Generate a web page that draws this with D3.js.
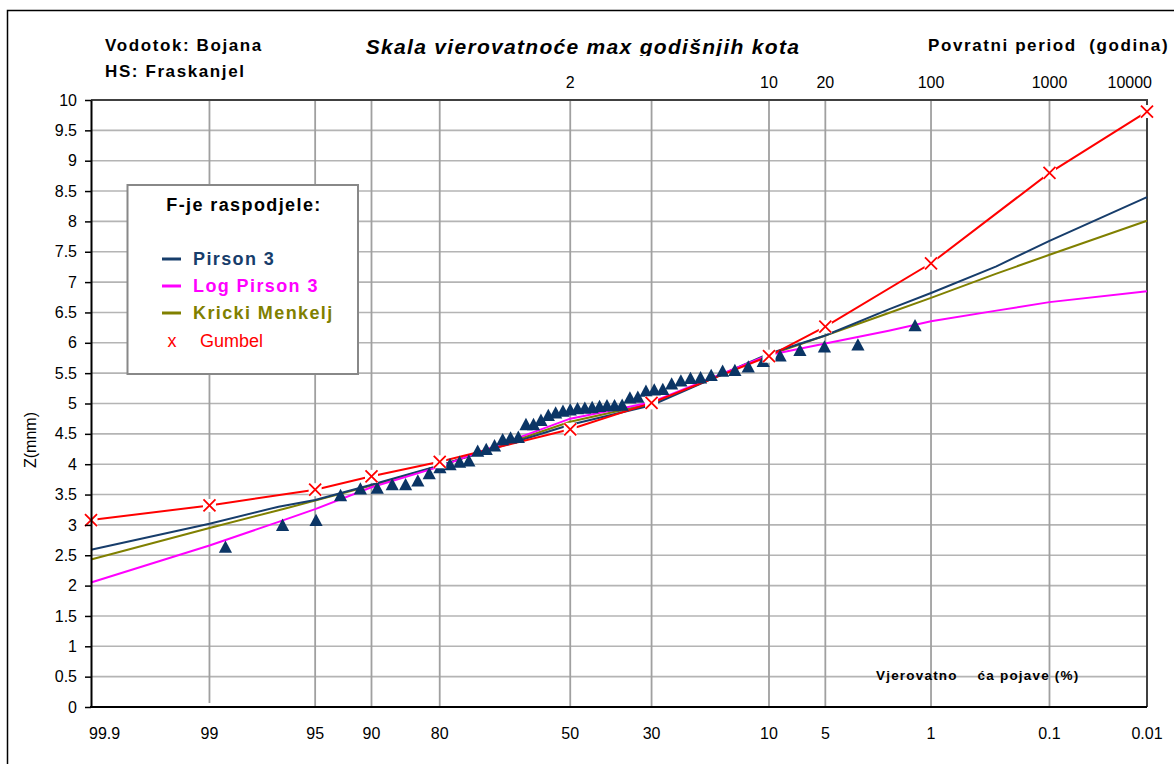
<!DOCTYPE html>
<html>
<head>
<meta charset="utf-8">
<script src="https://cdn.jsdelivr.net/npm/d3@7"></script>
<style>
  body { margin: 0; background: #fff; }
  svg { display: block; font-family: "Liberation Sans", Arial, sans-serif; }
  .pre { white-space: pre; }
</style>
</head>
<body>
<svg id="chart" width="1174" height="764"></svg>
<script>
// exceedance probability (%) of the observed annual maxima, and the levels
const obsExceed = [1.31, 3.18, 5.06, 6.93, 8.80, 10.67, 12.55, 14.42, 16.29, 18.17,
    20.04, 21.91, 23.78, 25.66, 27.53, 29.40, 31.27, 33.15, 35.02, 36.89,
    38.76, 40.64, 42.51, 44.38, 46.25, 48.13, 50.00, 51.87, 53.75, 55.62,
    57.49, 59.36, 61.24, 63.11, 64.98, 66.85, 68.73, 70.60, 72.47, 74.34,
    76.22, 78.09, 79.96, 81.84, 83.71, 85.58, 87.45, 89.33, 91.20, 93.07,
    94.94, 96.82, 98.69];
const obsLevel = [6.29, 5.97, 5.94, 5.88, 5.79, 5.70, 5.61, 5.55, 5.54, 5.47,
    5.43, 5.42, 5.38, 5.33, 5.24, 5.23, 5.21, 5.11, 5.10, 4.98,
    4.97, 4.97, 4.96, 4.94, 4.93, 4.92, 4.90, 4.88, 4.85, 4.81,
    4.73, 4.66, 4.66, 4.45, 4.44, 4.41, 4.31, 4.25, 4.22, 4.06,
    4.04, 4.00, 3.95, 3.85, 3.73, 3.67, 3.67, 3.61, 3.60, 3.49,
    3.08, 3.00, 2.64];

// fitted distributions
const fitExceed = [99.9, 99, 97, 95, 90, 80, 50, 30, 10, 5, 2, 1, 0.3, 0.1, 0.01];
const pirson3 = [2.59, 3.02, 3.30, 3.41, 3.66, 3.98, 4.65, 4.97, 5.82, 6.12, 6.55, 6.82, 7.26, 7.68, 8.40];
const logPirson3 = [2.05, 2.66, 3.05, 3.26, 3.62, 3.96, 4.75, 5.02, 5.80, 5.99, 6.20, 6.355, 6.53, 6.67, 6.85];
const krickiMenkelj = [2.43, 2.95, 3.24, 3.40, 3.65, 3.97, 4.70, 5.00, 5.80, 6.12, 6.49, 6.74, 7.14, 7.45, 8.01];

const gumExceed = [99.9, 99, 95, 90, 80, 50, 30, 10, 5, 1, 0.1, 0.01];
const gumbel = [3.08, 3.32, 3.58, 3.80, 4.04, 4.575, 5.01, 5.78, 6.265, 7.31, 8.80, 9.81];

// axes
const probLabels = [99.9, 99, 95, 90, 80, 50, 30, 10, 5, 1, 0.1, 0.01];
const probGrid = [99, 95, 90, 80, 50, 30, 10, 5, 1, 0.1];
const returnPeriods = [2, 10, 20, 100, 1000, 10000];
const yTicks = [0, 0.5, 1, 1.5, 2, 2.5, 3, 3.5, 4, 4.5, 5, 5.5, 6, 6.5, 7, 7.5, 8, 8.5, 9, 9.5, 10];

const NAVY = '#173d6b';
const TRI = '#0b3565';

// inverse standard normal cdf (Acklam)
function normInv(p) {
    const a = [-3.969683028665376e+01, 2.209460984245205e+02, -2.759285104469687e+02,
        1.383577518672690e+02, -3.066479806614716e+01, 2.506628277459239e+00];
    const b = [-5.447609879822406e+01, 1.615858368580409e+02, -1.556989798598866e+02,
        6.680131188771972e+01, -1.328068155288572e+01];
    const c = [-7.784894002430293e-03, -3.223964580411365e-01, -2.400758277161838e+00,
        -2.549732539343734e+00, 4.374664141464968e+00, 2.938163982698783e+00];
    const d = [7.784695709041462e-03, 3.224671290700398e-01, 2.445134137142996e+00,
        3.754408661907416e+00];
    const pl = 0.02425;
    if (p < pl) {
        const q = Math.sqrt(-2 * Math.log(p));
        return (((((c[0]*q+c[1])*q+c[2])*q+c[3])*q+c[4])*q+c[5]) / ((((d[0]*q+d[1])*q+d[2])*q+d[3])*q+1);
    }
    if (p > 1 - pl) {
        const q = Math.sqrt(-2 * Math.log(1 - p));
        return -(((((c[0]*q+c[1])*q+c[2])*q+c[3])*q+c[4])*q+c[5]) / ((((d[0]*q+d[1])*q+d[2])*q+d[3])*q+1);
    }
    const q = p - 0.5, r = q * q;
    return (((((a[0]*r+a[1])*r+a[2])*r+a[3])*r+a[4])*r+a[5])*q / (((((b[0]*r+b[1])*r+b[2])*r+b[3])*r+b[4])*r+1);
}
const zOf = exceed => normInv(1 - exceed / 100);

const PLOT_L = 91, PLOT_R = 1147, PLOT_T = 100, PLOT_B = 707;

const zScale = d3.scaleLinear().domain([zOf(99.9), zOf(0.01)]).range([PLOT_L, PLOT_R]);
const x = p => zScale(zOf(p));
const y = d3.scaleLinear().domain([0, 10]).range([PLOT_B, PLOT_T]);

const svg = d3.select('#chart');

// outer frame
svg.append('rect')
    .attr('x', 7.5).attr('y', 10.5).attr('width', 1200).attr('height', 800)
    .attr('fill', '#fff').attr('stroke', '#000').attr('stroke-width', 1.5);

// grid
svg.append('g')
    .selectAll('line')
    .data(yTicks.filter(v => v > 0 && v < 10))
    .join('line')
        .attr('x1', PLOT_L).attr('x2', PLOT_R)
        .attr('y1', d => y(d)).attr('y2', d => y(d))
        .attr('stroke', '#b4b4b4').attr('stroke-width', 1.6);

svg.append('g')
    .selectAll('line')
    .data(probGrid)
    .join('line')
        .attr('x1', d => x(d)).attr('x2', d => x(d))
        .attr('y1', PLOT_T).attr('y2', d => d === 99 ? PLOT_B - 4 : PLOT_B)
        .attr('stroke', '#a0a0a0').attr('stroke-width', 1.8);

// plot frame (top, right)
svg.append('path')
    .attr('d', `M${PLOT_L},${PLOT_T}H${PLOT_R}V${PLOT_B}`)
    .attr('fill', 'none').attr('stroke', '#404040').attr('stroke-width', 2);

// fitted lines
const line = d3.line()
    .x(d => x(d[0]))
    .y(d => y(d[1]));

const series = [
    { name: 'Kricki Menkelj', values: krickiMenkelj, color: '#808000' },
    { name: 'Pirson 3', values: pirson3, color: NAVY },
    { name: 'Log Pirson 3', values: logPirson3, color: '#ff00ff' },
];

series.forEach(s => {
    svg.append('path')
        .datum(d3.zip(fitExceed, s.values))
        .attr('d', line)
        .attr('fill', 'none')
        .attr('stroke', s.color)
        .attr('stroke-width', 2);
});

svg.append('path')
    .datum(d3.zip(gumExceed, gumbel))
    .attr('d', line)
    .attr('fill', 'none')
    .attr('stroke', '#ff0000')
    .attr('stroke-width', 2);

// observed maxima (triangles)
svg.append('g')
    .selectAll('path')
    .data(d3.zip(obsExceed, obsLevel))
    .join('path')
        .attr('transform', d => `translate(${x(d[0])},${y(d[1])})`)
        .attr('d', 'M0,-6.3L6.6,6L-6.6,6Z')
        .attr('fill', TRI);

// Gumbel markers with white background
const gm = svg.append('g')
    .selectAll('g')
    .data(d3.zip(gumExceed, gumbel))
    .join('g')
        .attr('transform', d => `translate(${x(d[0])},${y(d[1])})`);
gm.append('rect')
    .attr('x', -6.5).attr('y', -6.5).attr('width', 13).attr('height', 13)
    .attr('fill', '#fff');
gm.append('path')
    .attr('d', 'M-6,-6L6,6M-6,6L6,-6')
    .attr('stroke', '#ff0000').attr('stroke-width', 1.8);

// axes
const yAxis = svg.append('g')
    .attr('transform', `translate(${PLOT_L},0)`)
    .call(d3.axisLeft(y).tickValues(yTicks).tickFormat(d => String(d))
        .tickSize(6).tickSizeOuter(0).tickPadding(8));
yAxis.select('.domain').attr('stroke', '#000').attr('stroke-width', 2);
yAxis.selectAll('.tick line').attr('stroke', '#000').attr('stroke-width', 1.5);
yAxis.selectAll('.tick text')
    .attr('font-size', 16).attr('fill', '#000');

svg.append('line')
    .attr('x1', PLOT_L - 1).attr('x2', PLOT_R)
    .attr('y1', PLOT_B).attr('y2', PLOT_B)
    .attr('stroke', '#000').attr('stroke-width', 2);

// probability labels (bottom)
svg.append('g')
    .selectAll('text')
    .data(probLabels)
    .join('text')
        .attr('x', (d, i) => i === 0 ? PLOT_L - 2 : x(d))
        .attr('y', 739)
        .attr('text-anchor', (d, i) => i === 0 ? 'start' : 'middle')
        .attr('font-size', 16)
        .text(d => String(d));

// return period labels (top)
svg.append('g')
    .selectAll('text')
    .data(returnPeriods)
    .join('text')
        .attr('x', (d, i) => i === returnPeriods.length - 1 ? PLOT_R + 5 : x(100 / d))
        .attr('y', 88)
        .attr('text-anchor', (d, i) => i === returnPeriods.length - 1 ? 'end' : 'middle')
        .attr('font-size', 16)
        .text(d => String(d));

// headings
const bold = (txt, px, py, size, spacing) => svg.append('text')
    .attr('class', 'pre')
    .attr('x', px).attr('y', py)
    .attr('font-size', size).attr('font-weight', 'bold')
    .attr('letter-spacing', spacing)
    .text(txt);

bold('Vodotok: Bojana', 105, 51, 17, 1.6);
bold('HS: Fraskanjel', 105, 77, 17, 1.6);
bold('Povratni period  (godina)', 928, 51, 17, 1.6);

svg.append('clipPath').attr('id', 'titleClip')
    .append('rect').attr('x', 0).attr('y', 0).attr('width', 1174).attr('height', 56);
bold('Skala vierovatnoće max godišnjih kota', 583, 54, 21, 1.3)
    .attr('font-style', 'italic')
    .attr('text-anchor', 'middle')
    .attr('clip-path', 'url(#titleClip)');

bold('Vjerovatno    ća pojave (%)', 876, 680, 13.5, 1.2);

svg.append('text')
    .attr('transform', 'translate(36,440) rotate(-90)')
    .attr('text-anchor', 'middle')
    .attr('font-size', 16)
    .text('Z(mnm)');

// legend
const lg = svg.append('g');
lg.append('rect')
    .attr('x', 127.5).attr('y', 185).attr('width', 230.5).attr('height', 189)
    .attr('fill', '#fff').attr('stroke', '#888').attr('stroke-width', 2);
lg.append('text')
    .attr('x', 244).attr('y', 205).attr('dy', '0.35em')
    .attr('text-anchor', 'middle')
    .attr('font-size', 18).attr('font-weight', 'bold').attr('letter-spacing', 1.4)
    .text('F-je raspodjele:');

const legendItems = [
    { name: 'Pirson 3', color: NAVY },
    { name: 'Log Pirson 3', color: '#ff00ff' },
    { name: 'Kricki Menkelj', color: '#808000' },
];
legendItems.forEach((s, i) => {
    const ly = 259 + i * 27;
    lg.append('line')
        .attr('x1', 162).attr('x2', 181).attr('y1', ly).attr('y2', ly)
        .attr('stroke', s.color).attr('stroke-width', 3);
    lg.append('text')
        .attr('x', 193).attr('y', ly).attr('dy', '0.35em')
        .attr('font-size', 18).attr('font-weight', 'bold').attr('letter-spacing', 1.4)
        .attr('fill', s.color)
        .text(s.name);
});
lg.append('text')
    .attr('x', 172).attr('y', 341).attr('dy', '0.35em')
    .attr('text-anchor', 'middle')
    .attr('font-size', 18).attr('fill', '#ff0000')
    .text('x');
lg.append('text')
    .attr('x', 200).attr('y', 341).attr('dy', '0.35em')
    .attr('font-size', 18).attr('fill', '#ff0000')
    .text('Gumbel');
</script>
</body>
</html>
